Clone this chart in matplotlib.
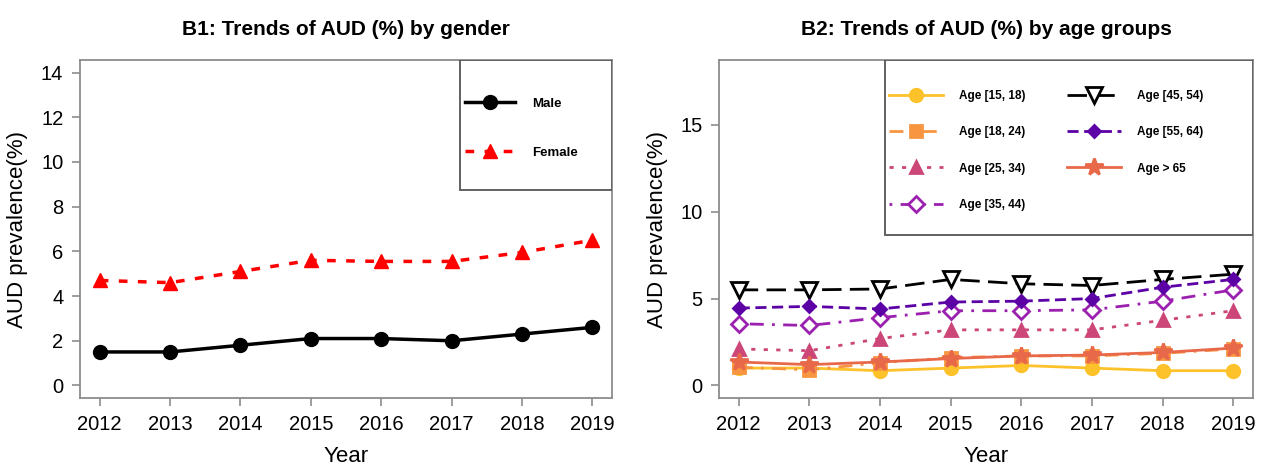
import numpy as np
import matplotlib.pyplot as plt
from matplotlib.patches import Rectangle

plt.rcParams['font.family'] = ['Liberation Sans', 'DejaVu Sans']

years = [2012, 2013, 2014, 2015, 2016, 2017, 2018, 2019]

# B1: by gender
male = [1.5, 1.5, 1.8, 2.1, 2.1, 2.0, 2.3, 2.6]
female = [4.7, 4.6, 5.1, 5.6, 5.55, 5.55, 5.95, 6.5]

# B2: by age group
age_labels = ['Age [15, 18)', 'Age [18, 24)', 'Age [25, 34)', 'Age [35, 44)',
              'Age [45, 54)', 'Age [55, 64)', 'Age > 65']
age_15_18 = [1.0, 1.0, 0.85, 1.0, 1.15, 1.0, 0.85, 0.85]
age_18_24 = [1.05, 0.9, 1.3, 1.6, 1.7, 1.7, 1.85, 2.1]
age_25_34 = [2.1, 2.0, 2.7, 3.2, 3.2, 3.2, 3.75, 4.3]
age_35_44 = [3.55, 3.45, 3.9, 4.3, 4.3, 4.35, 4.85, 5.5]
age_45_54 = [5.5, 5.5, 5.55, 6.1, 5.85, 5.75, 6.1, 6.4]
age_55_64 = [4.45, 4.55, 4.4, 4.8, 4.85, 5.0, 5.65, 6.1]
age_65 = [1.35, 1.2, 1.35, 1.55, 1.7, 1.75, 1.9, 2.15]

fig = plt.figure(figsize=(12.66, 4.70), dpi=100)
ax1 = fig.add_axes([0.0632, 0.1532, 0.4202, 0.7191])
ax2 = fig.add_axes([0.5679, 0.1532, 0.4218, 0.7191])

frame_col = '#8c8c8c'

def style_axes(ax):
    for s in ax.spines.values():
        s.set_color(frame_col)
        s.set_linewidth(1.3)
    ax.tick_params(axis='both', labelsize=14.5, length=6, pad=6, color=frame_col, width=1.2)
    ax.set_xticks(years)
    ax.set_xlim(2011.72, 2019.28)
    ax.set_xlabel('Year', fontsize=16, labelpad=9)
    ax.set_ylabel('AUD prevalence(%)', fontsize=16, labelpad=9)

def legend_box(ax, x0, y0):
    # R-style legend frame that hugs the top-right corner
    ax.add_patch(Rectangle((x0, y0), 1 - x0, 1 - y0, transform=ax.transAxes,
                           facecolor='white', edgecolor='#555555', lw=1.3, zorder=4))

# B1
ax1.plot(years, male, color='black', lw=2.5, marker='o', ms=10, label='Male')
ax1.plot(years, female, color='red', lw=2.5, ls=(0, (2.5, 3)), marker='^', ms=10, label='Female')
ax1.set_ylim(-0.56, 14.56)
ax1.set_yticks(np.arange(0, 15, 2))
style_axes(ax1)
ax1.set_title('B1: Trends of AUD (%) by gender', fontsize=15, fontweight='bold', pad=18)
legend_box(ax1, 0.714, 0.615)
leg1 = ax1.legend(loc='upper left', bbox_to_anchor=(0.724, 0.888), frameon=False,
                  borderpad=0, borderaxespad=0, handlelength=3.8, labelspacing=2.75,
                  handletextpad=1.3, prop={'weight': 'bold', 'size': 9.5})
leg1.set_zorder(5)

# B2
series = [age_15_18, age_18_24, age_25_34, age_35_44, age_45_54, age_55_64, age_65]
colors = ['#FDC22A', '#F89540', '#CC4778', '#9C20B0', 'black', '#5C01A6', '#E8694A']
styles = ['-', (0, (5, 3, 1, 3)), (0, (1.5, 3)), (0, (1, 3, 5, 3)), (0, (7, 3)), (0, (4, 2)), '-']
markers = ['o', 's', '^', 'D', 'v', 'D', '*']
fills = [True, True, True, False, False, True, True]
sizes = [9, 9, 9, 8, 11, 6, 13]
for vals, lab, c, st, mk, f, s in zip(series, age_labels, colors, styles, markers, fills, sizes):
    ax2.plot(years, vals, color=c, ls=st, lw=2, marker=mk, ms=s, label=lab,
             markerfacecolor=c if f else 'white', markeredgewidth=2)
ax2.set_ylim(-0.72, 18.72)
ax2.set_yticks([0, 5, 10, 15])
style_axes(ax2)
ax2.set_title('B2: Trends of AUD (%) by age groups', fontsize=15, fontweight='bold', pad=18)
legend_box(ax2, 0.311, 0.482)
leg2 = ax2.legend(loc='upper left', bbox_to_anchor=(0.318, 0.911), frameon=False, ncol=2,
                  borderpad=0, borderaxespad=0, handlelength=4.6, labelspacing=2.05,
                  handletextpad=1.35, columnspacing=3.5,
                  prop={'weight': 'bold', 'size': 8.5})
leg2.set_zorder(5)

fig.savefig('out.png', dpi=100)
